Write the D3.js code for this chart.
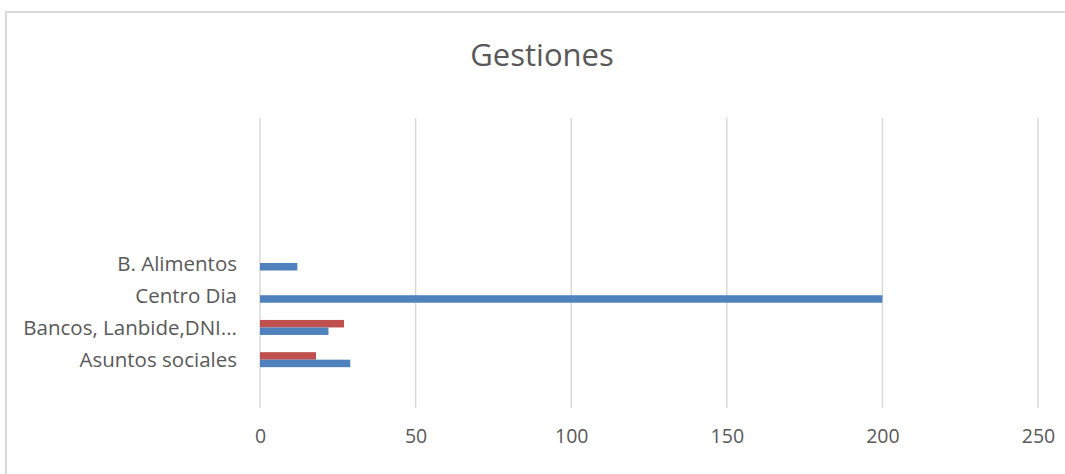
<!DOCTYPE html>
<html>
<head>
<meta charset="utf-8">
<script src="https://cdn.jsdelivr.net/npm/d3@7"></script>
<style>
  html, body { margin: 0; padding: 0; background: #fff; }
  svg { display: block; }
</style>
</head>
<body>
<svg id="chart" width="1065" height="474"></svg>
<script>
// Category slots, bottom to top; empty strings are unlabelled slots
const categories = ["", "Asuntos sociales", "Bancos, Lanbide,DNI...", "Centro Dia", "B. Alimentos", "", "", "", ""];
// Series values per category (null = no bar)
const seriesBlue = [null, 29, 22, 200, 12, null, null, null, null];
const seriesRed  = [null, 18, 27, null, null, null, null, null, null];
const tickValues = [0, 50, 100, 150, 200, 250];
const title = "Gestiones";

const svg = d3.select("#chart");
const font = "'Open Sans', 'Noto Sans', sans-serif";

// chart frame
svg.append("rect")
  .attr("x", 6).attr("y", 12)
  .attr("width", 1070).attr("height", 480)
  .attr("fill", "#fff")
  .attr("stroke", "#d9d9d9")
  .attr("stroke-width", 2);

const plot = { left: 260, right: 1038, top: 118, bottom: 408 };

const x = d3.scaleLinear().domain([0, 250]).range([plot.left, plot.right]);
const idx = d3.range(categories.length);
const y = d3.scaleBand().domain(idx).range([plot.bottom, plot.top]);

// gridlines
svg.append("g").selectAll("line")
  .data(tickValues)
  .join("line")
  .attr("x1", d => x(d)).attr("x2", d => x(d))
  .attr("y1", plot.top).attr("y2", plot.bottom)
  .attr("stroke", "#d9d9d9").attr("stroke-width", 1.5);

// x axis labels
const xAxis = d3.axisBottom(x).tickValues(tickValues).tickSize(0).tickPadding(0);
const gx = svg.append("g").attr("transform", `translate(0,${plot.bottom + 21})`).call(xAxis);
gx.select(".domain").remove();
gx.selectAll("text")
  .attr("font-family", font).attr("font-size", 19.5).attr("fill", "#595959");

// y axis labels
const yAxis = d3.axisLeft(y).tickFormat(i => categories[i]).tickSize(0).tickPadding(0);
const gy = svg.append("g").attr("transform", `translate(${plot.left - 23},1)`).call(yAxis);
gy.select(".domain").remove();
gy.selectAll("text")
  .attr("font-family", font).attr("font-size", 20.5).attr("fill", "#595959");

// bars: red above the category centre, blue below
const barH = 7.5;
const rows = idx.map(i => ({ i, blue: seriesBlue[i], red: seriesRed[i] }));

svg.append("g").selectAll("rect")
  .data(rows.filter(d => d.red != null))
  .join("rect")
  .attr("x", x(0))
  .attr("y", d => y(d.i) + y.bandwidth() / 2 - barH)
  .attr("width", d => x(d.red) - x(0))
  .attr("height", barH)
  .attr("fill", "#C0504D");

svg.append("g").selectAll("rect")
  .data(rows.filter(d => d.blue != null))
  .join("rect")
  .attr("x", x(0))
  .attr("y", d => y(d.i) + y.bandwidth() / 2)
  .attr("width", d => x(d.blue) - x(0))
  .attr("height", barH)
  .attr("fill", "#4F81BD");

// title
svg.append("text")
  .attr("x", 542).attr("y", 66)
  .attr("text-anchor", "middle")
  .attr("font-family", font).attr("font-size", 31)
  .attr("fill", "#595959")
  .text(title);
</script>
</body>
</html>
